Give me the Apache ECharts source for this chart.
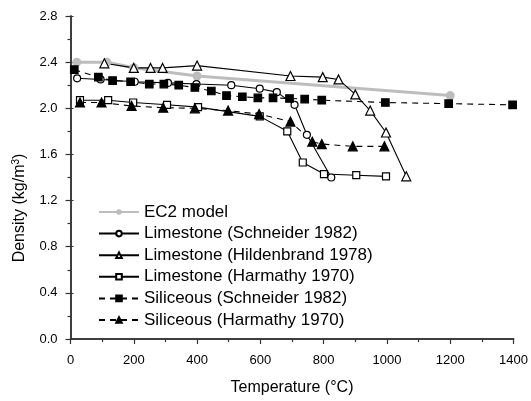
<!DOCTYPE html>
<html>
<head>
<meta charset="utf-8">
<script src="https://cdn.jsdelivr.net/npm/echarts@6/dist/echarts.min.js"></script>
<style>html,body{margin:0;padding:0;background:#fff}#c{width:531px;height:401px}</style>
</head>
<body>
<div id="c"></div>
<script>
// ---- data ----
var seriesNames = ['EC2 model','Limestone (Schneider 1982)','Limestone (Hildenbrand 1978)','Limestone (Harmathy 1970)','Siliceous (Schneider 1982)','Siliceous (Harmathy 1970)'];
var xTicks = [0,200,400,600,800,1000,1200,1400];
var yTicks = [0.0,0.4,0.8,1.2,1.6,2.0,2.4,2.8];

var ec2T = [20,115,200,400,1200];
var ec2D = [2.40,2.40,2.352,2.28,2.11];

var limSchT = [21,95,203,308,398,508,598,652,708,747,824];
var limSchD = [2.26,2.25,2.23,2.22,2.21,2.20,2.17,2.14,2.03,1.77,1.40];

var limHilT = [107,200,253,291,400,695,797,847,900,947,997,1061];
var limHilD = [2.39,2.35,2.35,2.35,2.37,2.28,2.27,2.25,2.12,1.98,1.79,1.41];

var limHarT = [30,119,198,305,403,598,685,734,801,903,997];
var limHarD = [2.07,2.07,2.05,2.03,2.01,1.93,1.80,1.53,1.43,1.42,1.41];

var silSchT = [12,88,133,190,249,295,342,393,445,493,543,592,640,692,740,794,995,1195,1397];
var silSchD = [2.335,2.27,2.24,2.23,2.21,2.21,2.20,2.18,2.15,2.11,2.10,2.09,2.09,2.085,2.08,2.07,2.05,2.04,2.03];

var silHarT = [30,98,193,293,393,498,596,695,764,794,892,992];
var silHarD = [2.05,2.05,2.02,2.005,2.00,1.98,1.95,1.885,1.71,1.69,1.67,1.67];

function zip(a,b){return a.map(function(v,i){return [v,b[i]];});}

var FONT = '"Liberation Sans", Arial, sans-serif';
var AX = '#333';

var chart = echarts.init(document.getElementById('c'), null, {renderer:'canvas'});

function mkSeries(name, T, D, symbol, size, fill, dashed){
  return {
    name: name, type: 'line', data: zip(T,D),
    symbol: symbol, symbolSize: size, showSymbol: true,
    lineStyle: {color:'#000', width:1.1, type: dashed ? [6,5] : 'solid'},
    itemStyle: {color: fill, borderColor:'#000', borderWidth:1.2},
    emphasis: {disabled:true}
  };
}

var option = {
  animation: false,
  backgroundColor: '#fff',
  textStyle: {fontFamily: FONT},
  grid: {left: 70.5, right: 15.5, top: 16, bottom: 57.7, containLabel:false},
  legend: {
    orient: 'vertical', left: 98, top: 203, padding: 0,
    itemWidth: 40, itemHeight: 7, itemGap: 3.6,
    data: seriesNames,
    textStyle: {fontSize: 17, color:'#000', fontFamily: FONT, lineHeight: 18},
    selectedMode: false
  },
  xAxis: [{
    type:'value', min: xTicks[0], max: xTicks[xTicks.length-1], interval: 200,
    name: 'Temperature (°C)', nameLocation:'middle', nameGap: 41,
    nameTextStyle: {fontSize:16, color:'#000', fontFamily: FONT},
    axisLine:{show:true, lineStyle:{color:AX, width:1.5}},
    axisTick:{show:true, inside:false, length:5, lineStyle:{color:AX, width:1.2}},
    minorTick:{show:true, splitNumber:2, length:3, lineStyle:{color:AX, width:1.2}},
    splitLine:{show:false},
    axisLabel:{fontSize:13, color:'#000', margin:15, fontFamily: FONT,
      formatter:function(v){return String(v);}}
  },{
    type:'value', position:'top', min: xTicks[0], max: xTicks[xTicks.length-1], interval: 200,
    axisLine:{show:true, lineStyle:{color:AX, width:1.5}},
    axisTick:{show:true, inside:true, length:4, lineStyle:{color:AX, width:1}},
    minorTick:{show:true, splitNumber:2, length:3, lineStyle:{color:AX, width:1}},
    splitLine:{show:false}, axisLabel:{show:false}
  }],
  yAxis: [{
    type:'value', min: yTicks[0], max: yTicks[yTicks.length-1], interval: 0.4,
    axisLine:{show:true, lineStyle:{color:AX, width:1.5}},
    axisTick:{show:true, inside:false, length:5, lineStyle:{color:AX, width:1.2}},
    minorTick:{show:true, splitNumber:2, length:3, lineStyle:{color:AX, width:1.2}},
    splitLine:{show:false},
    axisLabel:{fontSize:13, color:'#000', margin:13, fontFamily: FONT,
      formatter:function(v){return v.toFixed(1);}}
  },{
    type:'value', position:'right', min: yTicks[0], max: yTicks[yTicks.length-1], interval: 0.4,
    axisLine:{show:true, lineStyle:{color:AX, width:1.5}},
    axisTick:{show:true, inside:false, length:3, lineStyle:{color:AX, width:1}},
    minorTick:{show:false},
    splitLine:{show:false}, axisLabel:{show:false}
  }],
  graphic: [{
    type:'text', x: 20, y: 208, rotation: Math.PI/2,
    style: {
      text: 'Density (kg/m{sup|3})',
      fill:'#000', font: '16px ' + FONT,
      align:'center', verticalAlign:'middle',
      rich: {sup: {fontSize: 10, fontFamily: FONT, fill:'#000', verticalAlign:'top', padding:[0,0,8,0]}}
    }
  }],
  series: [
    {
      name: seriesNames[0], type:'line', data: zip(ec2T, ec2D),
      symbol:'circle', symbolSize: 9, showSymbol:true,
      lineStyle:{color:'#bdbdbd', width:3},
      itemStyle:{color:'#bdbdbd', borderWidth:0},
      emphasis:{disabled:true}
    },
    mkSeries(seriesNames[1], limSchT, limSchD, 'circle', 7, '#fff', false),
    mkSeries(seriesNames[2], limHilT, limHilD, 'triangle', 9, '#fff', false),
    mkSeries(seriesNames[3], limHarT, limHarD, 'rect', 7, '#fff', false),
    mkSeries(seriesNames[4], silSchT, silSchD, 'rect', 7.5, '#000', true),
    mkSeries(seriesNames[5], silHarT, silHarD, 'triangle', 9, '#000', true)
  ]
};
chart.setOption(option);
</script>
</body>
</html>
